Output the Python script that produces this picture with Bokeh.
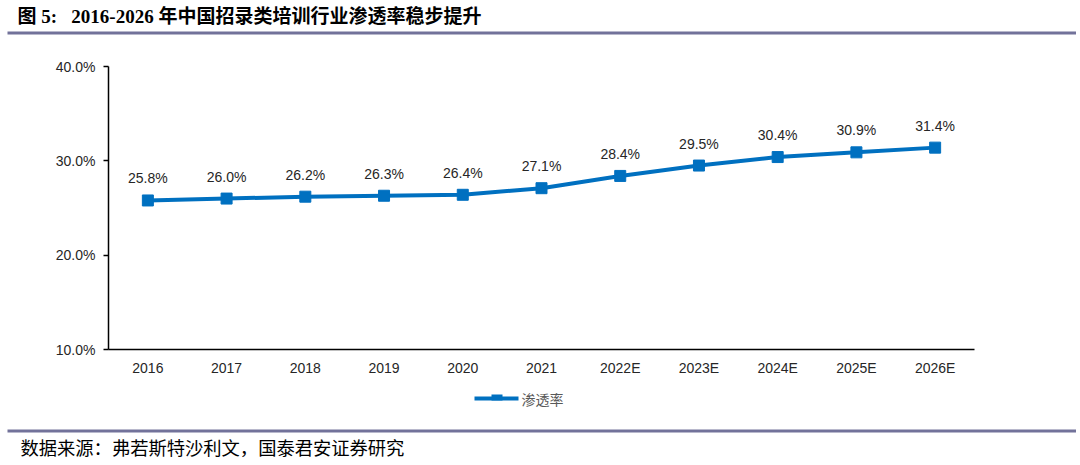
from bokeh.plotting import figure
from bokeh.layouts import column
from bokeh.models import FactorRange, Range1d, Label, ColumnDataSource, LabelSet, BoxAnnotation
from bokeh.core.properties import value
from bokeh.embed import file_html
from bokeh.resources import INLINE

years = ["2016", "2017", "2018", "2019", "2020", "2021", "2022E", "2023E", "2024E", "2025E", "2026E"]
rate = [25.8, 26.0, 26.2, 26.3, 26.4, 27.1, 28.4, 29.5, 30.4, 30.9, 31.4]
y_ticks = [10, 20, 30, 40]
title_text = "图 5:\u00a0\u00a0\u00a02016-2026 年中国招录类培训行业渗透率稳步提升"
source_text = "数据来源：弗若斯特沙利文，国泰君安证券研究"
series_name = "渗透率"

BLUE = "#0070C0"
RULE = "#72729a"
W = 1076
TOP_H, MID_H, BOT_H = 42, 338, 81
MID_TOP = TOP_H
BOT_TOP = TOP_H + MID_H


def deco_fig(h):
    f = figure(width=W, height=h, x_range=Range1d(0, W), y_range=Range1d(h, 0),
               output_backend="svg", toolbar_location=None,
               x_axis_location=None, y_axis_location=None,
               min_border_left=0, min_border_right=0, min_border_top=0, min_border_bottom=0)
    f.grid.visible = False
    f.outline_line_color = None
    f.background_fill_color = "white"
    return f


# ---- title strip
top = deco_fig(TOP_H)
top.add_layout(Label(x=17, y=16, text=title_text,
                     text_font="Liberation Serif, Noto Sans CJK SC", text_font_style="bold",
                     text_font_size="19px", text_baseline="middle", text_color="black"))
top.add_layout(BoxAnnotation(left=7, right=1076, top=31, bottom=34,
                             fill_color=RULE, fill_alpha=1, line_color=None))

# ---- main chart
p = figure(width=W, height=MID_H, x_range=FactorRange(*years), y_range=Range1d(10, 40),
           output_backend="svg", toolbar_location=None,
           min_border_left=108, min_border_right=W - 974,
           min_border_top=66 - MID_TOP, min_border_bottom=BOT_TOP - 349)
p.outline_line_color = None
p.grid.visible = False
p.background_fill_color = "white"

src = ColumnDataSource(dict(x=years, y=rate, lab=[f"{v:.1f}%" for v in rate]))
p.line("x", "y", source=src, line_color=BLUE, line_width=4)
p.scatter("x", "y", source=src, marker="square", size=11, color=BLUE)
p.add_layout(LabelSet(x="x", y="y", text="lab", source=src, y_offset=14, text_align="center",
                      text_font=value("Liberation Sans"), text_font_size=value("14px"), text_color="#262626"))

p.yaxis.ticker = y_ticks
p.yaxis.major_label_overrides = {t: f"{t:.1f}%" for t in y_ticks}
p.yaxis.minor_tick_line_color = None
p.yaxis.major_tick_in = 0
p.yaxis.major_tick_out = 5
p.yaxis.axis_line_color = "black"
p.yaxis.axis_line_width = 1.5
p.yaxis.major_tick_line_width = 1.5
p.xaxis.major_tick_line_color = None
p.xaxis.axis_line_color = "black"
p.xaxis.axis_line_width = 1.5
for ax in (p.xaxis, p.yaxis):
    ax.major_label_text_font = "Liberation Sans"
    ax.major_label_text_font_size = "14px"
    ax.major_label_text_color = "#262626"
p.xaxis.major_label_standoff = 4
p.yaxis.major_label_standoff = 8

# ---- legend + source strip
bot = deco_fig(BOT_H)
ly = 398 - BOT_TOP
bot.add_layout(BoxAnnotation(left=474, right=518, top=ly - 2, bottom=ly + 2,
                             fill_color=BLUE, fill_alpha=1, line_color=None))
bot.add_layout(BoxAnnotation(left=491, right=502, top=ly - 4, bottom=ly + 2,
                             fill_color=BLUE, fill_alpha=1, line_color=None))
bot.add_layout(Label(x=521, y=ly, text=series_name,
                     text_font="Noto Sans CJK SC",
                     text_font_size="14px", text_baseline="middle", text_color="#595959"))
bot.add_layout(BoxAnnotation(left=7, right=1076, top=429 - BOT_TOP, bottom=432 - BOT_TOP,
                             fill_color=RULE, fill_alpha=1, line_color=None))
bot.add_layout(Label(x=20, y=446 - BOT_TOP, text=source_text,
                     text_font="Noto Sans CJK SC",
                     text_font_size="18.3px", text_baseline="middle", text_color="black"))

layout = column(column(top), p, column(bot), spacing=0)
open("out.html", "w").write(file_html(layout, INLINE))
